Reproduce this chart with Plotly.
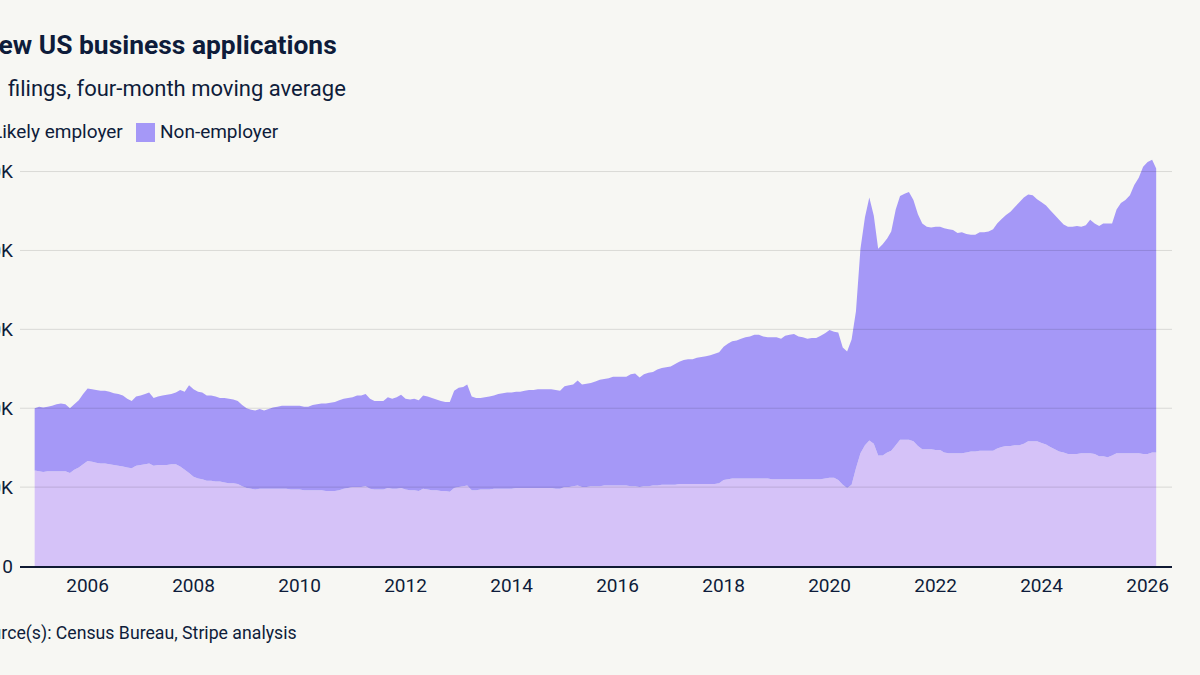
import pandas as pd
import plotly.graph_objects as go

# ---------------- data (thousands of filings, monthly, four-month moving average) ----------------
start_month = "2005-01-01"
end_month = "2026-03-01"

# Total applications (top of the stacked area = likely employer + non-employer)
all_applications = [
    200, 202, 201, 202, 203, 205, 206, 205, 200, 205, 210, 218,  # 2005
    225, 224, 223, 222, 222, 221, 219, 218, 216, 212, 209, 215,  # 2006
    216, 218, 220, 213, 215, 216, 217, 218, 220, 223, 221, 229,  # 2007
    224, 221, 220, 216, 216, 215, 213, 213, 212, 211, 209, 204,  # 2008
    200, 198, 197, 199, 197, 199, 201, 202, 203, 203, 203, 203,  # 2009
    203, 202, 202, 204, 205, 206, 206, 207, 208, 210, 212, 213,  # 2010
    214, 216, 216, 218, 212, 209, 209, 209, 214, 212, 214, 217,  # 2011
    212, 211, 212, 210, 216, 215, 213, 211, 209, 208, 208, 222,  # 2012
    226, 227, 230, 215, 213, 213, 214, 215, 216, 218, 219, 220,  # 2013
    220, 221, 221, 222, 223, 223, 224, 224, 224, 224, 223, 222,  # 2014
    228, 229, 230, 235, 230, 231, 232, 234, 236, 237, 238, 240,  # 2015
    240, 240, 240, 243, 244, 239, 243, 245, 246, 249, 251, 252,  # 2016
    253, 256, 259, 261, 262, 262, 264, 265, 266, 267, 269, 271,  # 2017
    278, 282, 285, 286, 288, 290, 291, 293, 293, 291, 290, 290,  # 2018
    290, 288, 292, 293, 294, 291, 290, 288, 289, 289, 292, 295,  # 2019
    299, 297, 296, 277, 272, 287, 323, 402, 442, 467, 444, 402,  # 2020
    408, 415, 424, 452, 469, 472, 474, 464, 446, 434, 430, 429,  # 2021
    430, 430, 428, 427, 426, 422, 423, 421, 420, 420, 423, 423,  # 2022
    424, 427, 434, 440, 445, 449, 455, 461, 467, 471, 470, 465,  # 2023
    461, 457, 451, 445, 439, 433, 430, 430, 431, 430, 432, 439,  # 2024
    434, 431, 434, 434, 434, 452, 460, 464, 470, 483, 492, 506,  # 2025
    512, 515, 504,                                               # 2026
]

likely_employer = [
    121, 120, 119, 120, 120, 120, 120, 120, 118, 122, 125, 129,  # 2005
    133, 132, 131, 130, 130, 129, 128, 127, 126, 125, 124, 127,  # 2006
    128, 129, 130, 127, 128, 128, 128, 129, 129, 126, 122, 118,  # 2007
    113, 111, 110, 108, 108, 107, 107, 106, 105, 105, 104, 101,  # 2008
    99, 98, 97, 98, 98, 98, 98, 98, 98, 98, 97, 97,              # 2009
    97, 96, 96, 96, 96, 96, 95, 95, 95, 96, 98, 99,              # 2010
    100, 100, 100, 101, 98, 97, 97, 97, 99, 98, 98, 99,          # 2011
    97, 96, 96, 95, 98, 97, 96, 96, 95, 95, 94, 99,              # 2012
    100, 101, 102, 96, 96, 97, 97, 97, 98, 98, 98, 98,           # 2013
    98, 99, 99, 99, 99, 99, 99, 99, 99, 99, 98, 98,              # 2014
    100, 100, 101, 102, 100, 100, 101, 101, 101, 102, 102, 102,  # 2015
    102, 102, 102, 101, 101, 100, 101, 101, 102, 102, 103, 103,  # 2016
    103, 103, 104, 104, 104, 104, 104, 104, 104, 104, 104, 105,  # 2017
    109, 110, 111, 111, 111, 111, 111, 111, 111, 111, 111, 110,  # 2018
    110, 110, 110, 110, 110, 110, 110, 110, 110, 110, 110, 111,  # 2019
    112, 112, 109, 103, 99, 103, 124, 143, 153, 159, 155, 140,   # 2020
    140, 144, 146, 153, 160, 160, 160, 158, 152, 148, 148, 148,  # 2021
    147, 147, 144, 143, 143, 143, 143, 144, 145, 145, 146, 146,  # 2022
    146, 146, 149, 151, 152, 152, 153, 153, 155, 158, 158, 158,  # 2023
    156, 154, 151, 148, 145, 144, 142, 142, 142, 143, 143, 143,  # 2024
    142, 139, 139, 138, 140, 143, 143, 143, 143, 143, 143, 142,  # 2025
    142, 144, 144,                                               # 2026
]

y_tick_values = [0, 100, 200, 300, 400, 500]
y_tick_labels = ["0", "100K", "200K", "300K", "400K", "500K"]
x_tick_years = ["2006", "2008", "2010", "2012", "2014", "2016",
                "2018", "2020", "2022", "2024", "2026"]

series_names = ["Likely employer", "Non-employer"]

# ---------------- style ----------------
BG = "#f7f7f3"
C_EMP = "#d5c2f8"
C_NON = "#a598f7"
TXT = "#0e1c3a"
FONT = "Roboto"

W, H = 1200, 675
ML, MR, MT, MB = 20, 28, 140, 109
PW, PH = W - ML - MR, H - MT - MB


def px_x(px):
    return (px - ML) / PW


def px_y(py):
    return (H - MB - py) / PH


months = pd.date_range(start_month, end_month, freq="MS")

fig = go.Figure()
fig.add_trace(go.Scatter(
    x=months, y=likely_employer, name=series_names[0], mode="none",
    fill="tozeroy", fillcolor=C_EMP, showlegend=False,
))
fig.add_trace(go.Scatter(
    x=months, y=all_applications, name=series_names[1], mode="none",
    fill="tonexty", fillcolor=C_NON, showlegend=False,
))

# gridlines drawn above the areas (as in the reference)
for v in y_tick_values[1:]:
    fig.add_shape(type="line", xref="paper", yref="y", x0=0, x1=1, y0=v, y1=v,
                  line=dict(color="rgba(0,0,0,0.12)", width=1), layer="above")

annotations = [
    dict(text="<b>New US business applications</b>", x=px_x(-22), y=px_y(45),
         font=dict(size=26.4, color=TXT, family=FONT)),
    dict(text="filings, four-month moving average", x=px_x(6), y=px_y(89),
         font=dict(size=22, color=TXT, family=FONT)),
    dict(text=series_names[0], x=px_x(-10), y=px_y(131),
         font=dict(size=19, color=TXT, family=FONT)),
    dict(text=series_names[1], x=px_x(158), y=px_y(131),
         font=dict(size=19, color=TXT, family=FONT)),
    dict(text="Source(s): Census Bureau, Stripe analysis", x=px_x(-31), y=px_y(633),
         font=dict(size=17.7, color=TXT, family=FONT)),
]
for a in annotations:
    fig.add_annotation(xref="paper", yref="paper", xanchor="left", yanchor="middle",
                       showarrow=False, **a)

# legend swatches
for x0, col in [(-32, C_EMP), (136, C_NON)]:
    fig.add_shape(type="rect", xref="paper", yref="paper",
                  x0=px_x(x0), x1=px_x(x0 + 19), y0=px_y(142), y1=px_y(123),
                  fillcolor=col, line=dict(width=0), layer="above")

fig.update_layout(
    width=W, height=H,
    margin=dict(l=ML, r=MR, t=MT, b=MB, autoexpand=False),
    paper_bgcolor=BG, plot_bgcolor=BG,
    font=dict(family=FONT, color=TXT),
    showlegend=False,
    hovermode=False,
)
fig.update_xaxes(
    type="date", range=["2004-09-22", "2026-06-18"],
    tickvals=[f"{y}-01-01" for y in x_tick_years], ticktext=x_tick_years,
    showgrid=False, zeroline=False, ticks="",
    showline=True, linecolor="#101a33", linewidth=2, layer="above traces",
    tickfont=dict(size=19, color=TXT, family=FONT), ticklabelstandoff=1,
    automargin=False,
)
fig.update_yaxes(
    range=[0, 540], tickvals=y_tick_values, ticktext=y_tick_labels,
    showgrid=False, zeroline=False, ticks="", showline=False,
    tickfont=dict(size=19, color=TXT, family=FONT), ticklabelstandoff=6,
    automargin=False,
)

fig.write_html("out.html")
